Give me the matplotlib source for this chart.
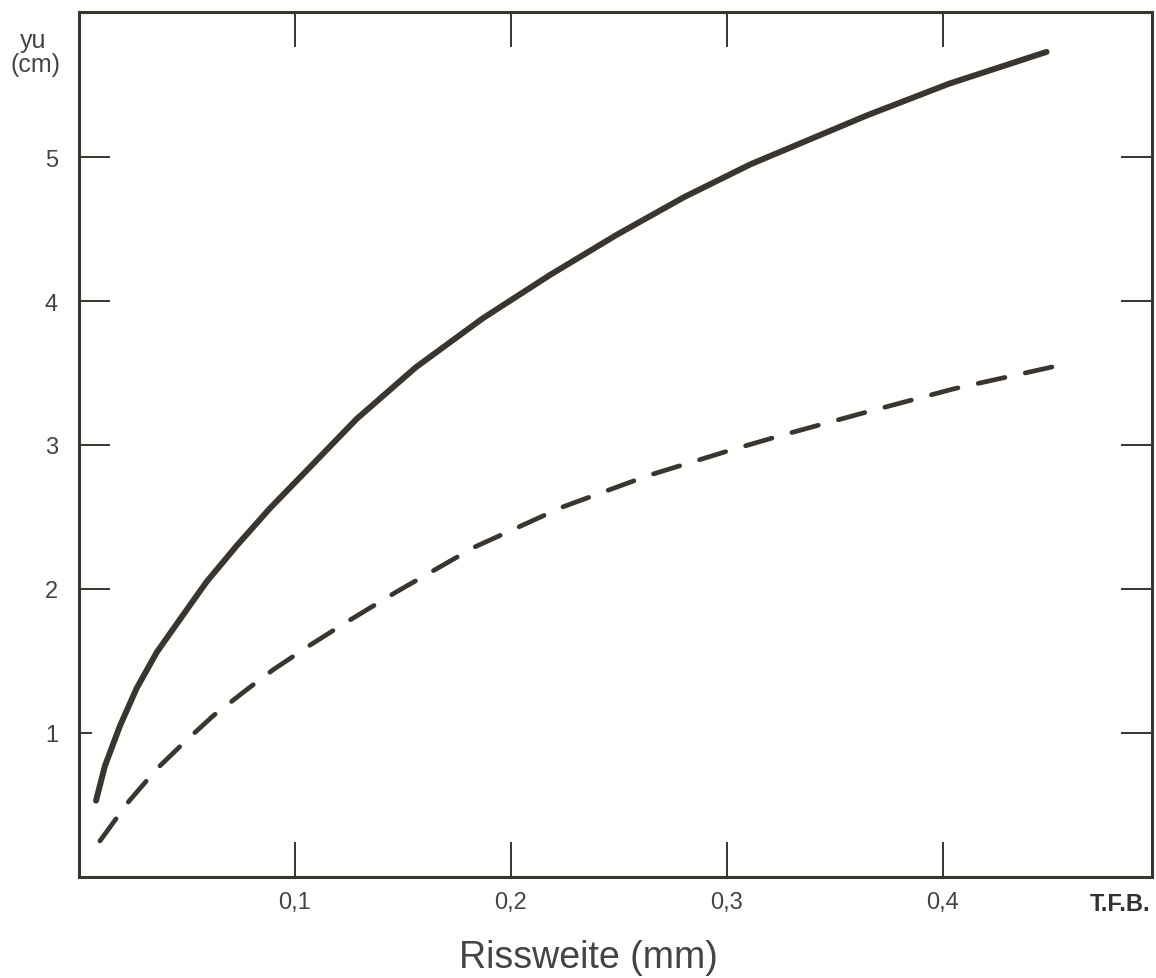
import matplotlib
matplotlib.use("Agg")
import matplotlib.pyplot as plt

plt.rcParams["font.family"] = ["Liberation Sans", "DejaVu Sans"]

rissweite_voll = [0.0079, 0.012, 0.019, 0.0267, 0.036, 0.0468, 0.0591, 0.073, 0.0884,
                  0.1085, 0.1285, 0.156, 0.187, 0.218, 0.249, 0.280, 0.311, 0.365,
                  0.403, 0.448]
yu_voll = [0.53, 0.77, 1.05, 1.31, 1.56, 1.79, 2.05, 2.30, 2.56,
           2.87, 3.18, 3.54, 3.88, 4.18, 4.46, 4.72, 4.95, 5.29,
           5.51, 5.73]

rissweite_gestr = [0.0097, 0.0228, 0.036, 0.0498, 0.0622, 0.0776, 0.09, 0.107, 0.1239,
                   0.147, 0.183, 0.224, 0.264, 0.303, 0.326, 0.365, 0.405, 0.453]
yu_gestr = [0.25, 0.52, 0.75, 0.95, 1.12, 1.30, 1.44, 1.61, 1.77,
            1.98, 2.29, 2.57, 2.79, 2.97, 3.07, 3.23, 3.39, 3.55]

x_ticks = [0.1, 0.2, 0.3, 0.4]
x_labels = ["0,1", "0,2", "0,3", "0,4"]
y_ticks = [1, 2, 3, 4, 5]

INK = "#3b3530"
TEXT = "#444444"

fig = plt.figure(figsize=(11.56, 9.79), dpi=100)
ax = fig.add_axes([0.0683, 0.1032, 0.9282, 0.8835])

ax.plot(rissweite_voll, yu_voll, color=INK, lw=4.3, solid_capstyle="round",
        solid_joinstyle="round")
ax.plot(rissweite_gestr, yu_gestr, color=INK, lw=3.4, dashes=(5.8, 4.4),
        dash_capstyle="round", dash_joinstyle="round")

ax.set_xlim(0, 0.4968)
ax.set_ylim(0, 6.007)

for side in ax.spines.values():
    side.set_linewidth(2.2)
    side.set_color(INK)

ax.set_xticks(x_ticks)
ax.set_xticklabels(x_labels)
ax.set_yticks(y_ticks)
ax.tick_params(axis="x", direction="in", length=25, width=1.4, color=INK,
               top=True, bottom=True, labelsize=17, labelcolor=TEXT, pad=10)
ax.tick_params(axis="y", direction="in", length=22, width=1.4, color=INK,
               left=True, right=True, labelsize=17, labelcolor=TEXT, pad=15)

# der Strich bei 1 ist links kuerzer
ax.yaxis.get_major_ticks()[0].tick1line.set_markersize(9)

fig.text(0.029, 0.951, "yu", fontsize=18, color=TEXT, ha="center", va="baseline")
fig.text(0.031, 0.926, "(cm)", fontsize=18, color=TEXT, ha="center", va="baseline")
fig.text(0.969, 0.0766, "T.F.B.", fontsize=17, fontweight="bold", color="#333333",
         ha="center", va="center")
fig.text(0.509, 0.021, "Rissweite (mm)", fontsize=27, color=TEXT,
         ha="center", va="center")

fig.savefig("out.png", dpi=100)
